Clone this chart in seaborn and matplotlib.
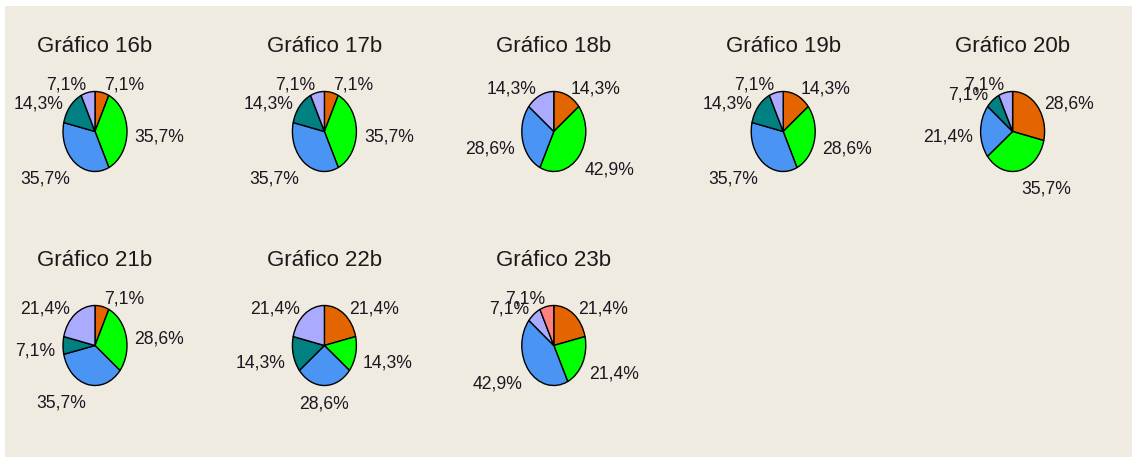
import numpy as np
import matplotlib
matplotlib.use("Agg")
import matplotlib.pyplot as plt
import seaborn as sns
from matplotlib.patches import Rectangle

# ---------------- data (percentages) ----------------
titles = ["Gráfico 16b", "Gráfico 17b", "Gráfico 18b", "Gráfico 19b", "Gráfico 20b",
          "Gráfico 21b", "Gráfico 22b", "Gráfico 23b"]
categories = ["Categoria 1", "Categoria 2", "Categoria 3", "Categoria 4", "Categoria 5", "Categoria 6"]
g16b = [7.1, 35.7, 35.7, 14.3, 7.1, 0.0]
g17b = [7.1, 35.7, 35.7, 14.3, 7.1, 0.0]
g18b = [14.3, 42.9, 28.6, 0.0, 14.3, 0.0]
g19b = [14.3, 28.6, 35.7, 14.3, 7.1, 0.0]
g20b = [28.6, 35.7, 21.4, 7.1, 7.1, 0.0]
g21b = [7.1, 28.6, 35.7, 7.1, 21.4, 0.0]
g22b = [21.4, 14.3, 28.6, 14.3, 21.4, 0.0]
g23b = [21.4, 21.4, 42.9, 0.0, 7.1, 7.1]
series = [g16b, g17b, g18b, g19b, g20b, g21b, g22b, g23b]

# ---------------- style ----------------
sns.set_theme(style="white")
plt.rcParams['font.family'] = ['Liberation Sans', 'DejaVu Sans']
palette = sns.color_palette(["#E46400", "#00FF00", "#4A94F4", "#008080", "#AAAAFF", "#FF8080"])
BG = "#EFEBE1"
TXT = "#1e1620"

W, H = 1132, 457
fig = plt.figure(figsize=(W / 100, H / 100), dpi=100)
fig.patch.set_facecolor("white")
fig.add_artist(Rectangle((5 / W, 0), 1, (H - 6) / H, transform=fig.transFigure,
                         facecolor=BG, edgecolor="none", zorder=-10))

RX, RY = 32.0, 40.0          # pie radii in pixels (elliptical pies)
AW, AH = 220.0, 200.0        # axes box in pixels
col_x = [95.0 + 229.4 * i for i in range(5)]
row_y = [131.5, 345.5]
title_base = [51.5, 265.5]
GAP = 7.7                     # label distance from the pie edge (px)
PX2PT = 72.0 / 100.0

for idx, (title, vals) in enumerate(zip(titles, series)):
    r, c = divmod(idx, 5)
    cx, cy = col_x[c], row_y[r]
    ax = fig.add_axes([(cx - AW / 2) / W, 1 - (cy + AH / 2) / H, AW / W, AH / H])
    keep = [i for i, v in enumerate(vals) if v > 0]
    v_use = [vals[i] for i in keep]
    c_use = [palette[i] for i in keep]
    wedges, _ = ax.pie(v_use, colors=c_use, startangle=90, counterclock=False,
                       wedgeprops=dict(edgecolor="black", linewidth=1.0))
    ax.set_aspect("auto")
    ax.set_xlim(-AW / 2 / RX, AW / 2 / RX)
    ax.set_ylim(-AH / 2 / RY, AH / 2 / RY)
    ax.set_facecolor("none")
    for wdg, v in zip(wedges, v_use):
        a = np.deg2rad((wdg.theta1 + wdg.theta2) / 2)
        ca, sa = np.cos(a), np.sin(a)
        ox = GAP * ca
        oy = GAP * sa - 5.5 * (1 - sa)
        ha = "left" if ca > 0.02 else ("right" if ca < -0.02 else "center")
        ax.annotate(f"{v:.1f}".replace(".", ",") + "%", xy=(ca, sa),
                    xytext=(ox * PX2PT, oy * PX2PT), textcoords="offset points",
                    ha=ha, va="center", fontsize=12.7, color=TXT, annotation_clip=False)
    fig.text(cx / W, 1 - title_base[r] / H, title, ha="center", va="baseline",
             fontsize=16, color="#1a1a1a")

fig.savefig("out.png", dpi=100, facecolor=fig.get_facecolor())
